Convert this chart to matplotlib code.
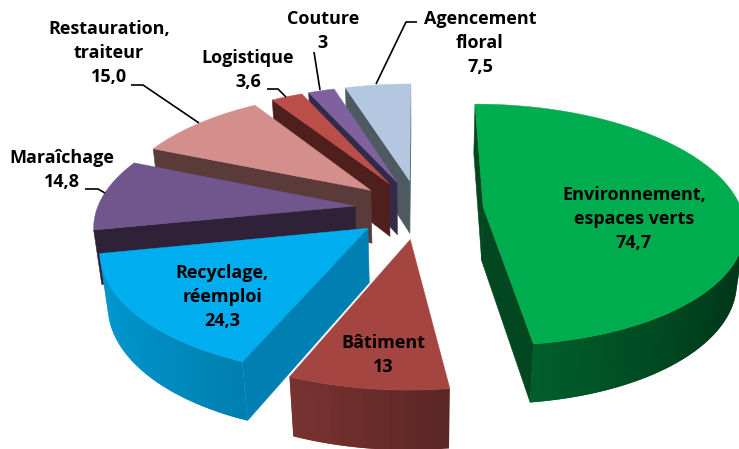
import numpy as np
import matplotlib
matplotlib.use("Agg")
import matplotlib.pyplot as plt
from matplotlib.patches import Polygon

plt.rcParams["font.family"] = ["Open Sans", "DejaVu Sans"]

names = ["Environnement,\nespaces verts", "Bâtiment", "Recyclage,\nréemploi", "Maraîchage",
         "Restauration,\ntraiteur", "Logistique", "Couture", "Agencement\nfloral"]
values = [74.7, 13, 24.3, 14.8, 15.0, 3.6, 3, 7.5]
value_labels = ["74,7", "13", "24,3", "14,8", "15,0", "3,6", "3", "7,5"]
top_colors = ["#00AD4E", "#A54542", "#00AEEF", "#70568C", "#D48E8C", "#BC4E4A", "#7F619F", "#B3C8E0"]
cut_colors = ["#02471F", "#4F1F1E", "#0080B2", "#2E2138", "#5A3B3A", "#4F1F1E", "#332A4A", "#4E5A62"]
label_pos = [(634, 219), (383, 355), (222, 297), (62, 170), (109, 53), (248, 70), (323, 31), (480, 43)]

# leader lines, screen pixels
leaders = {
    3: [(85, 189), (98, 189), (105, 193)],
    4: [(131, 85), (143, 85), (199, 123)],
    5: [(267, 89), (278, 89), (286, 97)],
    6: [(314, 52), (320, 90)],
    7: [(417, 22), (406, 22), (376, 84)],
}

# 3d pie projection, fitted on the picture
CX, CY = 419, 209
A, B = 258, 118.6
K = 0.1466
EXPLODE = 0.25
DEPTH = 55
BOTTOM_W = 0.025


def project(X, Z, low=False):
    w = 1 + K * np.asarray(Z)
    if low:
        w = w + BOTTOM_W
        return CX + A * X / w, CY + (-B * Z + DEPTH) / w
    return CX + A * X / w, CY - B * Z / w


def area(pts):
    p = np.array(pts)
    x, y = p[:, 0], p[:, 1]
    return 0.5 * np.sum(x * np.roll(y, -1) - np.roll(x, -1) * y)


def shade(hex_color, f):
    rgb = np.array(matplotlib.colors.to_rgb(hex_color))
    return tuple(rgb * f)


fig = plt.figure(figsize=(7.39, 4.49), dpi=100)
ax = fig.add_axes([0, 0, 1, 1])
ax.set_xlim(0, 739)
ax.set_ylim(449, 0)
ax.axis("off")

edges = np.radians(np.concatenate([[0], np.cumsum(values)]) / np.sum(values) * 360)

# far slices first, same stacking as the picture
for i in [7, 6, 5, 4, 3, 2, 1, 0]:
    t0, t1 = edges[i], edges[i + 1]
    mid = (t0 + t1) / 2
    ox, oz = EXPLODE * np.sin(mid), EXPLODE * np.cos(mid)
    th = np.linspace(t0, t1, max(int((t1 - t0) * 40), 6))
    X = ox + np.sin(th)
    Z = oz + np.cos(th)
    top = np.column_stack(project(X, Z))
    low = np.column_stack(project(X, Z, low=True))
    apex = np.array(project(ox, oz))
    apex_low = np.array(project(ox, oz, low=True))

    # cut faces
    for j, sign in [(0, 1), (-1, -1)]:
        quad = [apex, top[j], low[j], apex_low]
        if area(quad) * sign < 0:
            ax.add_patch(Polygon(quad, closed=True, fc=cut_colors[i], ec=cut_colors[i], lw=0.4, zorder=1))

    # outer wall, lighter on the left; strips overlap the next one so no seams show
    for j in range(len(th) - 1):
        k = min(j + 2, len(th) - 1)
        quad = [top[j], top[j + 1], low[j + 1], low[j]]
        if area(quad) < 0:
            u = np.sin((th[j] + th[j + 1]) / 2)
            f = np.interp(u, [-1, -0.38, 0.13, 1], [0.88, 0.73, 0.55, 0.3])
            c = shade(top_colors[i], f)
            ax.add_patch(Polygon([top[j], top[k], low[k], low[j]], closed=True, fc=c, ec="none", zorder=1))

    poly = np.vstack([apex, top])
    ax.add_patch(Polygon(poly, closed=True, fc=top_colors[i], ec=top_colors[i], lw=0.3, zorder=1))

for pts in leaders.values():
    p = np.array(pts)
    ax.plot(p[:, 0], p[:, 1], color="black", lw=1.2, zorder=3, solid_capstyle="butt")

for name, val, pos in zip(names, value_labels, label_pos):
    ax.text(pos[0], pos[1], name + "\n" + val, ha="center", va="center", fontsize=13,
            fontweight="bold", color="black", linespacing=1.42, zorder=4)

fig.savefig("out.png", dpi=100)
plt.close()
